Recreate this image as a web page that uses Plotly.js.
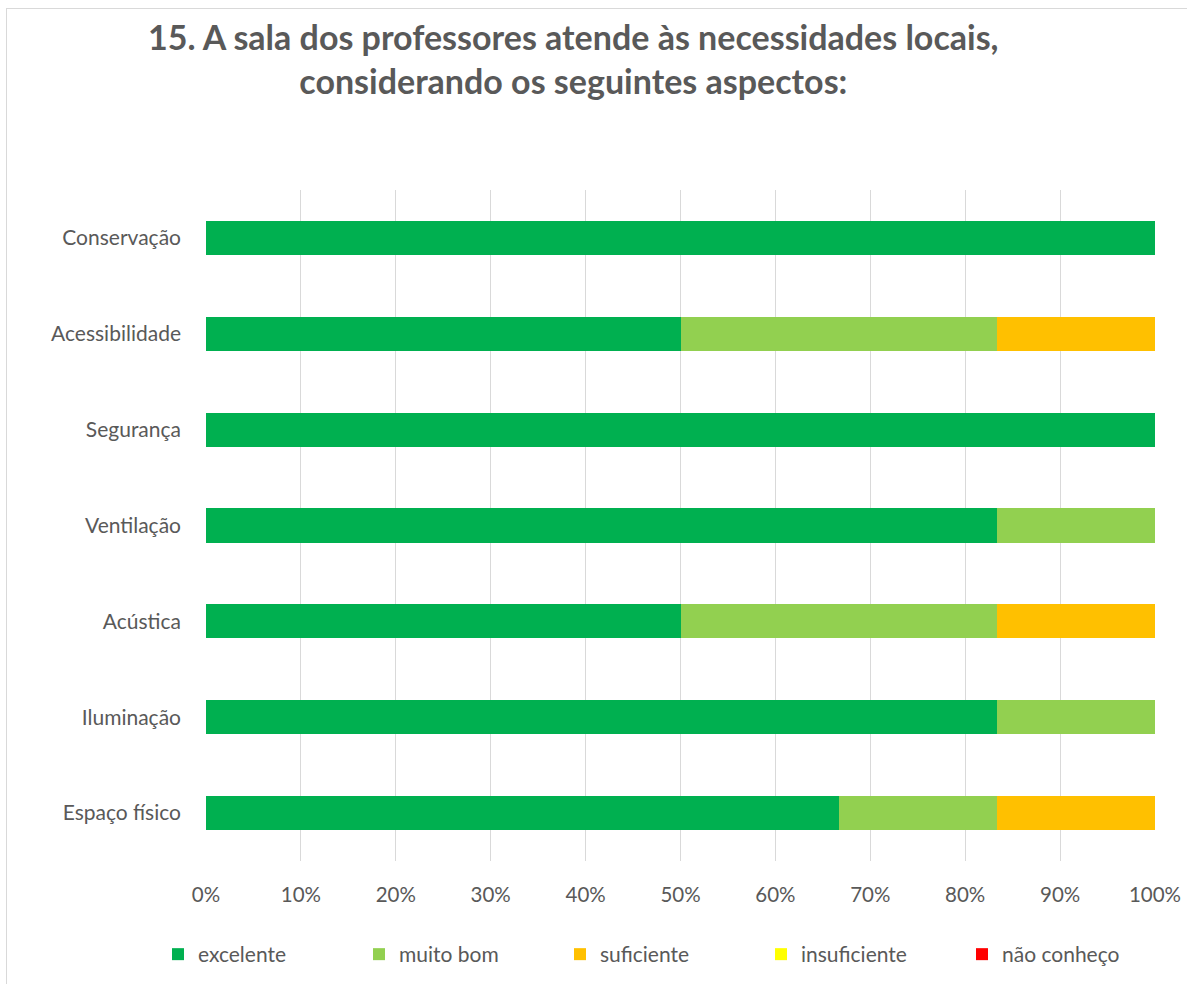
<!DOCTYPE html>
<html><head><meta charset="utf-8">
<script src="https://cdn.plot.ly/plotly-3.0.1.min.js"></script>
<style>
html,body{margin:0;padding:0;background:#fff;}
#frame{position:absolute;left:6px;top:8px;width:1300px;height:1100px;border:1px solid #d9d9d9;}
#chart{position:absolute;left:0;top:0;width:1187px;height:984px;}
</style></head>
<body>
<div id="frame"></div>
<div id="chart"></div>
<script>
const categories = ["Espaço físico","Iluminação","Acústica","Ventilação","Segurança","Acessibilidade","Conservação"];
const excelente   = [4,5,3,5,6,3,6];
const muitoBom    = [1,1,2,1,0,2,0];
const suficiente  = [1,0,1,0,0,1,0];
const insuficiente= [0,0,0,0,0,0,0];
const naoConheco  = [0,0,0,0,0,0,0];
const seriesNames = ["excelente","muito bom","suficiente","insuficiente","não conheço"];
const seriesColors = ["#00B050","#92D050","#FFC000","#FFFF00","#FF0000"];
const seriesValues = [excelente, muitoBom, suficiente, insuficiente, naoConheco];
const xTickVals = [0,10,20,30,40,50,60,70,80,90,100];
const xTickText = ["0%","10%","20%","30%","40%","50%","60%","70%","80%","90%","100%"];

const FONT = "Lato, 'Open Sans', sans-serif";
const traces = seriesNames.map((n,i)=>({
  type:'bar', orientation:'h', name:n, y:categories, x:seriesValues[i],
  marker:{color:seriesColors[i], line:{width:0}}, hoverinfo:'x+y+name'
}));

const layout = {
  width:1187, height:984,
  paper_bgcolor:'rgba(0,0,0,0)', plot_bgcolor:'rgba(0,0,0,0)',
  barmode:'stack', barnorm:'percent', bargap:0.645,
  margin:{l:206, r:32, t:190, b:123, autoexpand:false},
  font:{family:FONT, color:'#595959', size:20},
  title:{text:'<b>15. A sala dos professores atende às necessidades locais,<br>considerando os seguintes aspectos:</b>',
    font:{family:FONT, size:34, color:'#595959'},
    x:0.483, xref:'container', xanchor:'center', y:1-50/984, yref:'container', yanchor:'top'},
  xaxis:{range:[0,100], tickvals:xTickVals, ticktext:xTickText, showgrid:true, gridcolor:'#d9d9d9', gridwidth:1,
    zeroline:false, showline:false, ticks:'', ticklabelstandoff:19, tickfont:{size:20.5, color:'#595959'}, fixedrange:true},
  yaxis:{type:'category', categoryorder:'array', categoryarray:categories, showgrid:false, zeroline:false, showline:false,
    ticks:'', ticklabelstandoff:24, tickfont:{size:21, color:'#595959'}, fixedrange:true},
  showlegend:true,
  legend:{orientation:'h', xref:'paper', yref:'paper', x:-0.0506, y:-0.1088, xanchor:'left', yanchor:'top',
    font:{size:21, color:'#595959'}, traceorder:'normal', entrywidth:156, itemwidth:20},
};
Plotly.newPlot('chart', traces, layout, {displayModeBar:false, staticPlot:true});
</script>
</body></html>
